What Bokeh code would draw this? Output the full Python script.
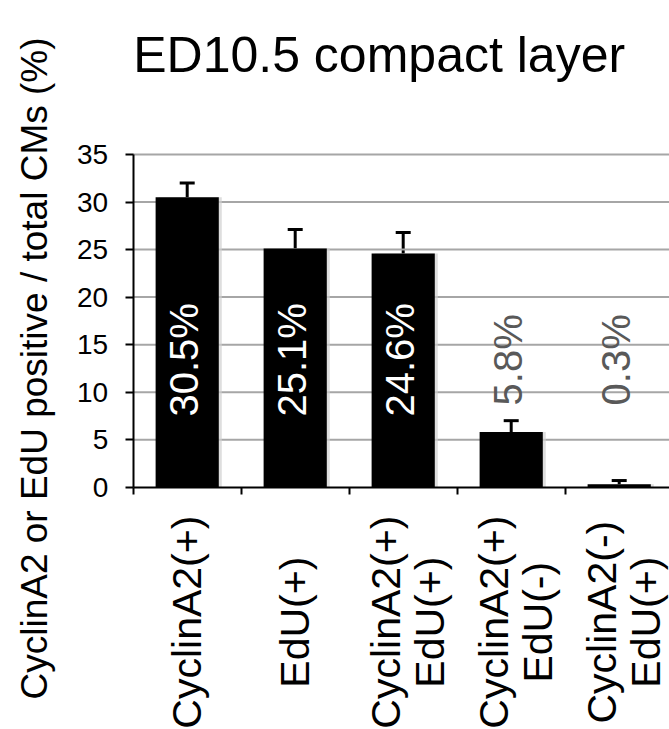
import math
from bokeh.plotting import figure
from bokeh.models import (Range1d, FixedTicker, Whisker, TeeHead, ColumnDataSource,
                          LabelSet, Label)
from bokeh.core.properties import value
from bokeh.embed import file_html
from bokeh.resources import INLINE

# ---- data ----
categories = ["CyclinA2(+)", "EdU(+)", "CyclinA2(+)\nEdU(+)",
              "CyclinA2(+)\nEdU(-)", "CyclinA2(-)\nEdU(+)"]
percent = [30.5, 25.1, 24.6, 5.8, 0.3]
errors = [1.5, 2.0, 2.2, 1.2, 0.4]
bar_labels = ["30.5%", "25.1%", "24.6%", "5.8%", "0.3%"]
label_colors = ["white", "white", "white", "#595959", "#595959"]
y_ticks = [0, 5, 10, 15, 20, 25, 30, 35]
title_text = "ED10.5 compact layer"
y_title = "CyclinA2 or EdU positive / total CMs (%)"

FONT = "Liberation Sans"

# ---- layout constants (pixels) ----
W, H = 669, 729
X0_PX, PX_PER_CAT = 132.7, 108.0     # screen x of category axis origin
Y0_PX, PX_PER_UNIT = 486.7, 9.505    # screen y of value 0
LINE_STEP = 44                        # px between the lines of a two-line label

n = len(categories)
xs = [i + 0.5 for i in range(n)]
src = ColumnDataSource(dict(
    x=xs, top=percent, upper=[v + e for v, e in zip(percent, errors)],
    lbl=bar_labels, lcol=label_colors,
    lbl_y=[13.4] * n,
    shadow_x=[v + 3 / PX_PER_CAT for v in xs],
))

# category labels, one label per text line, each line centred
line_x, line_txt, line_off = [], [], []
for x, cat in zip(xs, categories):
    parts = cat.split("\n")
    k = len(parts)
    for j, part in enumerate(parts):
        line_x.append(x)
        line_txt.append(part)
        line_off.append((j - (k - 1) / 2) * LINE_STEP + (5 if k > 1 else 0))
cat_src = ColumnDataSource(dict(x=line_x, txt=line_txt, off=line_off,
                                y=[-14.2] * len(line_x)))

x_range = Range1d(-X0_PX / PX_PER_CAT, (W - X0_PX) / PX_PER_CAT)
y_range = Range1d(-(H - Y0_PX) / PX_PER_UNIT, Y0_PX / PX_PER_UNIT)

p = figure(width=W, height=H, output_backend="svg", toolbar_location=None,
           x_range=x_range, y_range=y_range,
           min_border=0, min_border_left=0, min_border_right=0,
           min_border_top=0, min_border_bottom=0)
p.outline_line_color = None
p.background_fill_color = "white"
p.border_fill_color = "white"
p.xgrid.visible = False
p.ygrid.visible = False

# horizontal gridlines (drawn first, behind bars)
grid_y = y_ticks[1:]
p.segment(x0=[0] * len(grid_y), x1=[n] * len(grid_y), y0=grid_y, y1=grid_y,
          line_color="#a6a6a6", line_width=2)

# soft bar shadow
p.vbar(x="shadow_x", top="top", width=0.585, bottom=0, source=src,
       fill_color="#d0d0d0", fill_alpha=0.7, line_color=None)

# bars
p.vbar(x="x", top="top", width=0.585, bottom=0, source=src,
       fill_color="black", line_color=None)

# error bars (upper only)
w = Whisker(source=src, base="x", lower="top", upper="upper",
            line_color="black", line_width=3,
            upper_head=TeeHead(size=15, line_width=3, line_color="black"),
            lower_head=None)
p.add_layout(w)

# bar value labels
p.text(x="x", y="lbl_y", text="lbl", source=src, angle=math.pi / 2,
       text_align="center", text_baseline="middle", x_offset=-3,
       text_color="lcol", text_font=value(FONT), text_font_size="40px")

# category labels below the axis
cats = LabelSet(x="x", y="y", text="txt", x_offset="off", source=cat_src,
                angle=math.pi / 2,
                text_align="center", text_baseline="middle",
                text_font=value(FONT), text_font_size="41px",
                text_color="black")
p.add_layout(cats)

# chart title
p.add_layout(Label(x=0, y=45.48, text=title_text,
                   text_align="left", text_baseline="alphabetic",
                   text_font=FONT, text_font_size="50px", text_color="black"))

# y axis title
p.add_layout(Label(x=-0.914, y=12.49, text=y_title, angle=math.pi / 2,
                   text_align="center", text_baseline="middle",
                   text_font=FONT, text_font_size="37px", text_color="black"))

# axes placed at data origin
p.xaxis.fixed_location = 0
p.xaxis.bounds = (0, n)
p.xaxis.ticker = FixedTicker(ticks=[], minor_ticks=list(range(n + 1)))
p.xaxis.major_tick_line_color = None
p.xaxis.minor_tick_out = 7
p.xaxis.minor_tick_in = 0
p.xaxis.minor_tick_line_width = 2
p.xaxis.minor_tick_line_color = "black"
p.xaxis.axis_line_width = 2
p.xaxis.axis_line_color = "black"

p.yaxis.fixed_location = 0
p.yaxis.bounds = (0, 35)
p.yaxis.ticker = FixedTicker(ticks=y_ticks)
p.yaxis.major_label_text_font = FONT
p.yaxis.major_label_text_font_size = "28px"
p.yaxis.major_label_text_color = "black"
p.yaxis.major_label_standoff = 17
p.yaxis.major_tick_out = 8
p.yaxis.major_tick_in = 0
p.yaxis.major_tick_line_width = 2
p.yaxis.minor_tick_line_color = None
p.yaxis.axis_line_width = 2
p.yaxis.axis_line_color = "black"

open("out.html", "w").write(file_html(p, INLINE))
